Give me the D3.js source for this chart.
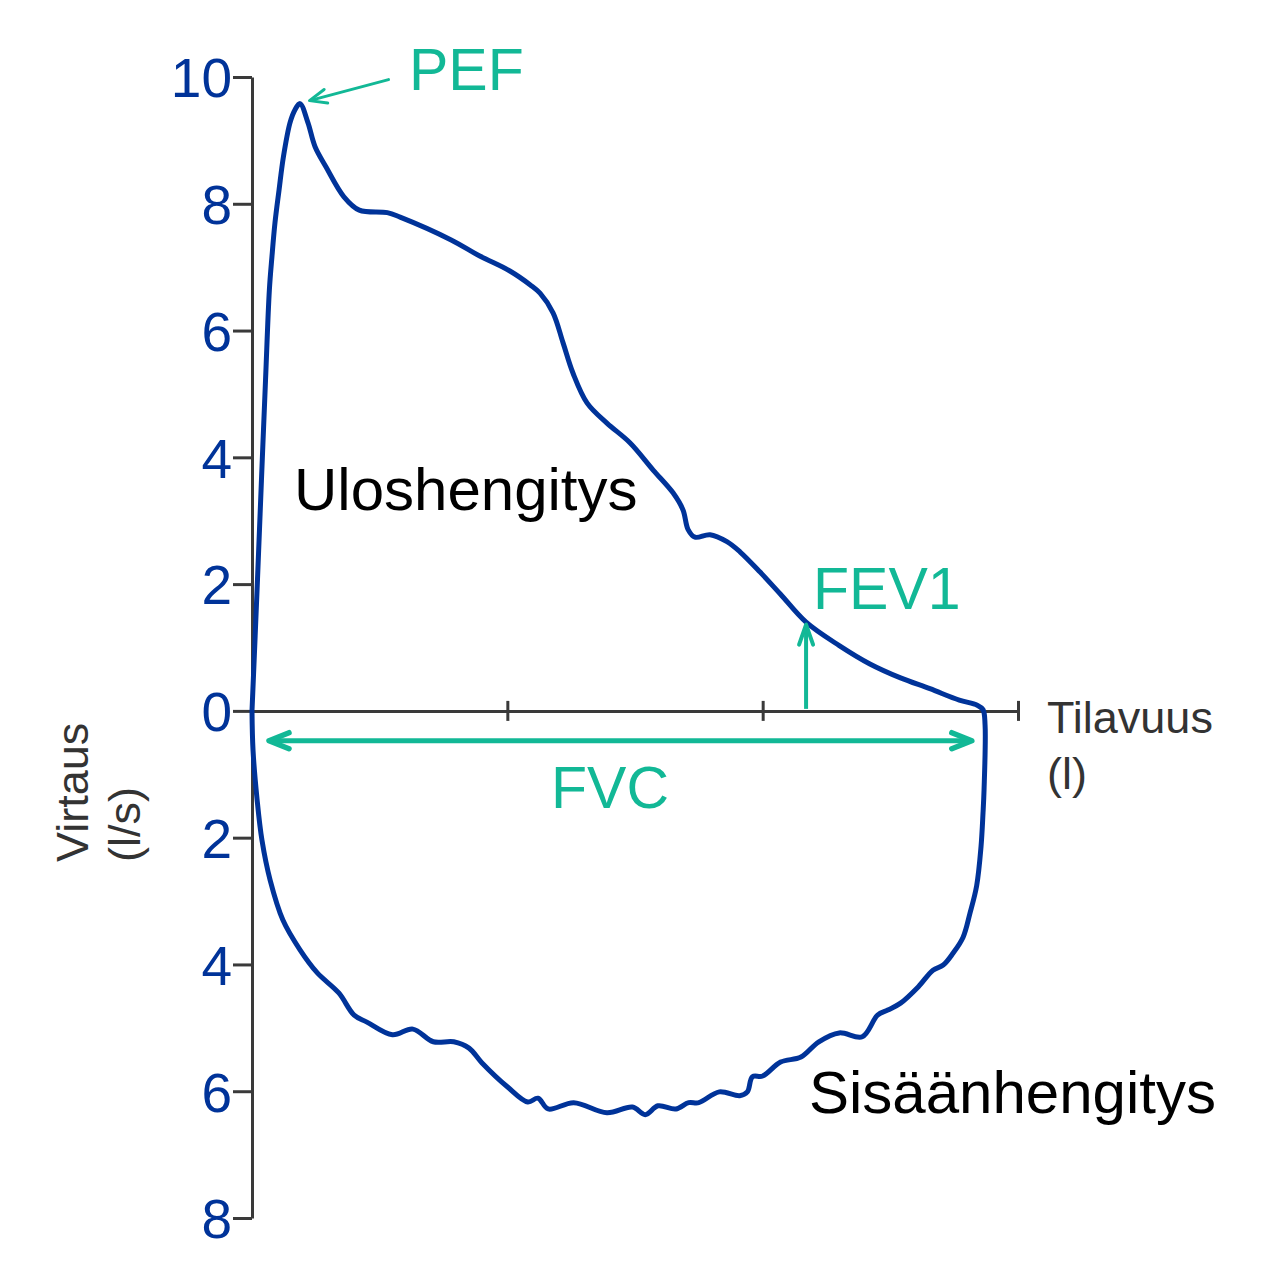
<!DOCTYPE html>
<html>
<head>
<meta charset="utf-8">
<script src="https://cdn.jsdelivr.net/npm/d3@7"></script>
<style>
  html, body { margin: 0; padding: 0; background: #fff; }
  svg { display: block; font-family: "Liberation Sans", Arial, sans-serif; }
</style>
</head>
<body>
<svg id="chart" width="1276" height="1278"></svg>
<script>
// ---- Data ----
const volumeTicks = [1, 2, 3];
const flowTicks = [10, 8, 6, 4, 2, 0, -2, -4, -6, -8];
const flowTickLabels = ["10", "8", "6", "4", "2", "0", "2", "4", "6", "8"];

// Expiration (Uloshengitys): volume (l), flow (l/s)
const expVolume = [0, 0.0215, 0.037, 0.053, 0.068, 0.078, 0.090, 0.106, 0.123, 0.149, 0.168, 0.188, 0.219, 0.247, 0.29, 0.36, 0.42, 0.53, 0.58, 0.78, 0.89, 1.01, 1.09, 1.128, 1.179, 1.218, 1.257, 1.312, 1.390, 1.480, 1.571, 1.649, 1.688, 1.708, 1.735, 1.794, 1.860, 1.911, 1.99, 2.07, 2.17, 2.30, 2.42, 2.54, 2.655, 2.77, 2.840, 2.863];
const expFlow   = [0, 2.07, 3.64, 5.22, 6.64, 7.16, 7.70, 8.22, 8.74, 9.28, 9.48, 9.58, 9.28, 8.90, 8.58, 8.11, 7.90, 7.86, 7.79, 7.43, 7.18, 6.94, 6.72, 6.59, 6.28, 5.81, 5.33, 4.86, 4.54, 4.23, 3.80, 3.44, 3.17, 2.86, 2.74, 2.78, 2.67, 2.51, 2.19, 1.84, 1.40, 1.03, 0.74, 0.52, 0.35, 0.17, 0.09, 0.02];

// Inspiration (Sisäänhengitys): volume (l), flow (l/s, negative)
const inspVolume = [2.871, 2.867, 2.863, 2.855, 2.838, 2.812, 2.785, 2.746, 2.707, 2.667, 2.61, 2.54, 2.49, 2.45, 2.39, 2.30, 2.22, 2.15, 2.07, 2.00, 1.96, 1.94, 1.91, 1.83, 1.75, 1.71, 1.66, 1.59, 1.54, 1.49, 1.39, 1.26, 1.16, 1.12, 1.08, 1.00, 0.90, 0.85, 0.79, 0.71, 0.63, 0.55, 0.45, 0.40, 0.34, 0.255, 0.188, 0.121, 0.071, 0.039, 0.020, 0.004, 0];
const inspFlow   = [-0.22, -1.25, -1.61, -2.15, -2.76, -3.19, -3.57, -3.82, -4.01, -4.09, -4.35, -4.61, -4.72, -4.80, -5.14, -5.08, -5.22, -5.46, -5.54, -5.76, -5.77, -6.01, -6.07, -6.01, -6.18, -6.18, -6.28, -6.23, -6.37, -6.25, -6.34, -6.18, -6.28, -6.11, -6.17, -5.93, -5.55, -5.32, -5.22, -5.22, -5.02, -5.11, -4.91, -4.80, -4.45, -4.13, -3.77, -3.30, -2.67, -2.04, -1.40, -0.62, 0];

// Annotations
const pefPoint = [0.19, 9.58];
const fvcValue = 2.87;
const fvcFlowLevel = -0.47;
const fev1Volume = 2.17;
const fev1Flow = 1.36;

// ---- Drawing ----
const svg = d3.select("#chart");
const x = d3.scaleLinear().domain([0, 3]).range([252, 1018]);
const y = d3.scaleLinear().domain([-8, 10]).range([1218, 77]);

const blue = "#003399";
const green = "#12b896";
const axisColor = "#3a3a3a";

// Y axis
const yAxis = d3.axisLeft(y).tickValues(flowTicks).tickSize(19).tickSizeOuter(0).tickPadding(1)
  .tickFormat((d, i) => flowTickLabels[i]);
const gy = svg.append("g").attr("transform", `translate(${x(0)},0)`).call(yAxis);
gy.select(".domain").attr("stroke", axisColor).attr("stroke-width", 3);
gy.selectAll(".tick line").attr("stroke", axisColor).attr("stroke-width", 3);
gy.selectAll(".tick text").attr("fill", blue).attr("font-size", 55)
  .attr("font-family", "Liberation Sans, Arial, sans-serif").attr("dy", "0.36em");

// X axis
const xAxis = d3.axisBottom(x).tickValues(volumeTicks).tickSize(10).tickSizeOuter(0).tickFormat("");
const gx = svg.append("g").attr("transform", `translate(0,${y(0)})`).call(xAxis);
gx.select(".domain").attr("stroke", axisColor).attr("stroke-width", 3);
gx.selectAll(".tick line").attr("stroke", axisColor).attr("stroke-width", 3).attr("y1", -10);

// Loop curve
const loop = expVolume.map((v, i) => [v, expFlow[i]])
  .concat(inspVolume.map((v, i) => [v, inspFlow[i]]));
const line = d3.line().x(d => x(d[0])).y(d => y(d[1])).curve(d3.curveCatmullRom.alpha(0.5));
svg.append("path").attr("d", line(loop)).attr("fill", "none")
  .attr("stroke", blue).attr("stroke-width", 5)
  .attr("stroke-linejoin", "round").attr("stroke-linecap", "round");

// Arrow helper: chevron head at (tx,ty) pointing from (fx,fy)
function arrowHead(g, fx, fy, tx, ty, len, half, w) {
  const dx = tx - fx, dy = ty - fy, L = Math.hypot(dx, dy);
  const ux = dx / L, uy = dy / L, px = -uy, py = ux;
  const bx = tx - ux * len, by = ty - uy * len;
  g.append("path")
    .attr("d", `M${bx + px * half},${by + py * half}L${tx},${ty}L${bx - px * half},${by - py * half}`)
    .attr("fill", "none").attr("stroke", green).attr("stroke-width", w)
    .attr("stroke-linecap", "round").attr("stroke-linejoin", "round");
}
const ann = svg.append("g");

// PEF arrow
const pefTipX = x(pefPoint[0]) + 9, pefTipY = y(pefPoint[1]) - 3;
const pefFromX = x(pefPoint[0]) + 88, pefFromY = y(pefPoint[1]) - 24;
ann.append("line").attr("x1", pefFromX).attr("y1", pefFromY).attr("x2", pefTipX + 2).attr("y2", pefTipY - 0.5)
  .attr("stroke", green).attr("stroke-width", 3).attr("stroke-linecap", "round");
arrowHead(ann, pefFromX, pefFromY, pefTipX, pefTipY, 17, 7, 3);

// FVC double arrow
const fvcY = y(fvcFlowLevel);
const fvcL = x(0) + 17, fvcR = x(fvcValue) - 13;
ann.append("line").attr("x1", fvcL + 2).attr("y1", fvcY).attr("x2", fvcR - 2).attr("y2", fvcY)
  .attr("stroke", green).attr("stroke-width", 5);
arrowHead(ann, fvcR, fvcY, fvcL, fvcY, 20, 8, 5.5);
arrowHead(ann, fvcL, fvcY, fvcR, fvcY, 20, 8, 5.5);

// FEV1 arrow
const fevX = x(fev1Volume);
ann.append("line").attr("x1", fevX).attr("y1", y(0) - 2).attr("x2", fevX).attr("y2", y(fev1Flow) + 2)
  .attr("stroke", green).attr("stroke-width", 4);
arrowHead(ann, fevX, y(0), fevX, y(fev1Flow), 20, 7, 4);

// Texts
const font = "Liberation Sans, Arial, sans-serif";
function txt(s, tx, ty, size, fill, anchor) {
  return svg.append("text").attr("x", tx).attr("y", ty).attr("font-size", size)
    .attr("fill", fill).attr("font-family", font).attr("text-anchor", anchor || "start").text(s);
}
txt("PEF", 409, 90, 59, green);
txt("FEV1", 813, 609, 59, green);
txt("FVC", 610, 808, 59, green, "middle");
txt("Uloshengitys", 294, 510, 60, "#000");
txt("Sisäänhengitys", 809, 1113, 60, "#000");
txt("Tilavuus", 1047, 733, 45, "#333");
txt("(l)", 1047, 789, 45, "#333");
svg.append("text").attr("transform", "translate(88,862) rotate(-90)")
  .attr("font-size", 45).attr("fill", "#333").attr("font-family", font).text("Virtaus");
svg.append("text").attr("transform", "translate(140,862) rotate(-90)")
  .attr("font-size", 45).attr("fill", "#333").attr("font-family", font).text("(l/s)");
</script>
</body>
</html>
